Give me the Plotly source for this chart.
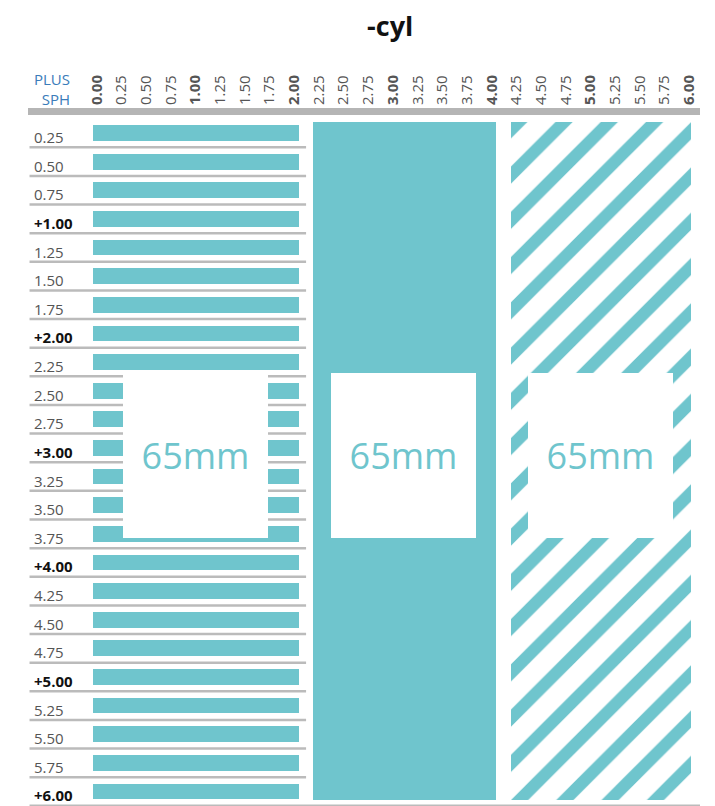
import plotly.graph_objects as go

# ---- data ----
cyl_ticks = [i * 0.25 for i in range(25)]            # 0.00 .. 6.00 columns
sph_rows = [i * 0.25 for i in range(1, 25)]          # 0.25 .. 6.00 rows
block_lo = [-0.04, 2.19, 4.195]                      # cyl extents of the three blocks
block_hi = [2.05, 4.045, 6.015]
block_label = ["65mm", "65mm", "65mm"]
block_label_center = [1.00, 3.105, 5.10]
label_sph_center = 3.066
title_text = "-cyl"

TEAL = "#6fc5cd"
GRAY = "#b5b5b5"

def fmt_col(v):
    s = f"{v:.2f}"
    return f"<b>{s}</b>" if abs(v - round(v)) < 1e-9 else s

def fmt_row(v):
    s = f"{v:.2f}"
    return f"<b>+{s}</b>" if abs(v - round(v)) < 1e-9 else s

fig = go.Figure()

# left block: one bar per row
fig.add_trace(go.Bar(
    orientation="h", y=sph_rows,
    x=[block_hi[0] - block_lo[0]] * len(sph_rows), base=block_lo[0],
    width=0.1375, marker=dict(color=TEAL, line=dict(width=0)),
    hoverinfo="skip", showlegend=False))

row_top = sph_rows[0] - 0.095
row_bot = sph_rows[-1] + 0.074
# middle solid block
fig.add_trace(go.Bar(
    orientation="v", x=[(block_lo[1] + block_hi[1]) / 2], width=[block_hi[1] - block_lo[1]],
    y=[row_bot - row_top], base=[row_top],
    marker=dict(color=TEAL, line=dict(width=0)), hoverinfo="skip", showlegend=False))
# right striped block
fig.add_trace(go.Bar(
    orientation="v", x=[(block_lo[2] + block_hi[2]) / 2], width=[block_hi[2] - block_lo[2]],
    y=[row_bot - row_top], base=[row_top],
    marker=dict(color="white", line=dict(width=0),
                pattern=dict(shape="/", fgcolor=TEAL, bgcolor="white", size=32,
                             solidity=0.38, fgopacity=1, fillmode="overlay")),
    hoverinfo="skip", showlegend=False))

# separator lines under each row
xs, ys = [], []
x_left = -0.68
for i, r in enumerate(sph_rows):
    yb = r + 0.125
    xe = 6.11 if i == len(sph_rows) - 1 else 2.12
    xs += [x_left, xe, None]
    ys += [yb, yb, None]
fig.add_trace(go.Scatter(x=xs, y=ys, mode="lines", line=dict(color="#bbbbbb", width=2.5),
                         hoverinfo="skip", showlegend=False, cliponaxis=False))

annotations = []
for r in sph_rows:
    bold = abs(r - round(r)) < 1e-9
    annotations.append(dict(
        x=-0.655, y=r, xref="x", yref="y", xanchor="left", yanchor="middle", yshift=-4,
        text=fmt_row(r), showarrow=False,
        font=dict(size=15, color="#111111" if bold else "#555555")))

for c, t in zip(block_label_center, block_label):
    annotations.append(dict(
        x=c, y=label_sph_center, xref="x", yref="y", text=t, showarrow=False,
        width=145, height=165, bgcolor="white", borderpad=0, borderwidth=0,
        font=dict(size=36, color=TEAL), xanchor="center", yanchor="middle"))

annotations.append(dict(
    x=-0.25, y=1.0376, xref="x", yref="paper", xanchor="right", yanchor="middle",
    text="PLUS<br>SPH", align="right", showarrow=False,
    font=dict(size=15, color="#3a7cba")))

fig.update_layout(
    width=707, height=798,
    margin=dict(l=20, r=15, t=107, b=0, pad=0),
    paper_bgcolor="white", plot_bgcolor="white",
    font=dict(family="Open Sans", color="#555555"),
    barmode="overlay", bargap=0,
    title=dict(text=f"<b>{title_text}</b>", x=0.539, xref="paper", xanchor="center",
               y=1 - 19 / 798, yref="container", yanchor="middle",
               font=dict(size=27, color="#111111")),
    annotations=annotations,
    xaxis=dict(range=[-0.6956, 6.1086], side="top", tickmode="array",
               tickvals=cyl_ticks, ticktext=[fmt_col(v) for v in cyl_ticks],
               tickangle=-90, tickfont=dict(size=15, color="#555555"),
               showgrid=False, zeroline=False, showline=True, linecolor=GRAY,
               linewidth=7, ticks="", fixedrange=True),
    yaxis=dict(range=[6.1268, 0.0928], showticklabels=False, showgrid=False,
               zeroline=False, showline=False, ticks="", fixedrange=True),
)

fig.write_html("out.html")
